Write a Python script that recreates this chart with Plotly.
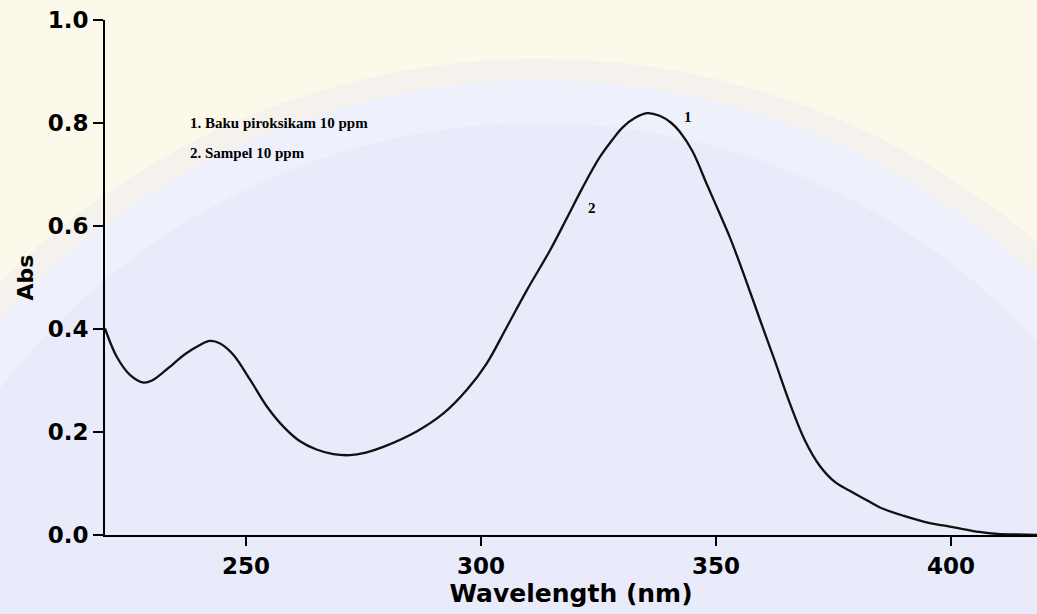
import plotly.graph_objects as go

# UV spectrum
wavelength = [220.0, 222.5, 225.3, 228.2, 230.0, 232.0, 234.5, 237.0, 240.0, 242.3,
              244.5, 247.3, 250.9, 254.4, 258.0, 261.5, 265.0, 268.6, 272.1, 275.5,
              279.2, 286.3, 292.0, 297.0, 301.2, 305.5, 309.8, 314.7, 318.2, 321.7,
              325.3, 328.0, 330.2, 332.8, 335.3, 338.0, 340.5, 342.3, 345.0, 348.1,
              350.5, 353.0, 356.2, 359.4, 362.6, 365.7, 368.9, 372.1, 375.3, 379.2,
              382.0, 385.0, 390.0, 395.5, 400.0, 406.0, 410.0, 414.0, 418.3]
absorbance = [0.401, 0.346, 0.311, 0.296, 0.300, 0.313, 0.332, 0.351, 0.368, 0.377,
              0.372, 0.350, 0.301, 0.250, 0.210, 0.182, 0.166, 0.157, 0.155, 0.160,
              0.171, 0.201, 0.236, 0.282, 0.333, 0.404, 0.476, 0.553, 0.614, 0.676,
              0.734, 0.768, 0.792, 0.810, 0.819, 0.814, 0.800, 0.783, 0.745, 0.680,
              0.630, 0.577, 0.499, 0.417, 0.336, 0.256, 0.184, 0.134, 0.103, 0.082,
              0.068, 0.053, 0.037, 0.023, 0.016, 0.006, 0.002, 0.001, 0.0]

x_ticks = [250, 300, 350, 400]
y_ticks = [0.0, 0.2, 0.4, 0.6, 0.8, 1.0]

legend_lines = ["1. Baku piroksikam 10 ppm", "2. Sampel 10 ppm"]
legend_y = [0.80, 0.742]
curve_labels = ["1", "2"]
curve_label_x = [344.0, 323.6]
curve_label_y = [0.812, 0.635]

fig = go.Figure()
fig.add_trace(go.Scatter(
    x=wavelength, y=absorbance, mode="lines",
    line=dict(color="#111111", width=2.3, shape="spline", smoothing=1.0),
    hoverinfo="skip", showlegend=False,
))

annotations = []
for txt, yy in zip(legend_lines, legend_y):
    annotations.append(dict(
        x=237.7, y=yy, xref="x", yref="y", text=txt, showarrow=False,
        xanchor="left", yanchor="middle",
        font=dict(family="Liberation Serif", size=15, color="black", weight="bold"),
    ))
for txt, xx, yy in zip(curve_labels, curve_label_x, curve_label_y):
    annotations.append(dict(
        x=xx, y=yy, xref="x", yref="y", text=txt, showarrow=False,
        xanchor="center", yanchor="middle",
        font=dict(family="Liberation Serif", size=15, color="black", weight="bold"),
    ))

tick_font = dict(family="DejaVu Sans", size=23, color="black", weight="bold")
title_font = dict(family="DejaVu Sans", size=25, color="black", weight="bold")

# soft watermark-like background (a large pale emblem)
bg_shapes = [
    dict(type="circle", xref="paper", yref="paper",
         x0=-0.345, x1=1.278, y0=-1.97, y1=0.925,
         fillcolor="#f5f2ee", line=dict(width=0), layer="below"),
    dict(type="circle", xref="paper", yref="paper",
         x0=-0.314, x1=1.247, y0=-1.94, y1=0.883,
         fillcolor="#eef0fb", line=dict(width=0), layer="below"),
    dict(type="circle", xref="paper", yref="paper",
         x0=-0.27, x1=1.20, y0=-1.90, y1=0.80,
         fillcolor="#e9ebfa", line=dict(width=0), layer="below"),
]

fig.update_layout(
    width=1037, height=614,
    margin=dict(l=105, r=0, t=20, b=79),
    paper_bgcolor="#fcf8ea",
    plot_bgcolor="rgba(0,0,0,0)",
    annotations=annotations,
    shapes=bg_shapes,
    xaxis=dict(
        range=[220, 418.3], tickvals=x_ticks, ticks="outside", ticklen=9,
        tickwidth=1.5, tickcolor="black", showline=True, linecolor="black",
        linewidth=2, showgrid=False, zeroline=False, tickfont=tick_font,
        title=dict(text="Wavelength (nm)", font=title_font, standoff=6),
    ),
    yaxis=dict(
        range=[0, 1.0], tickvals=y_ticks, tickformat=".1f", ticks="outside",
        ticklen=10, tickwidth=1.5, tickcolor="black", showline=True,
        linecolor="black", linewidth=2, showgrid=False, zeroline=False,
        tickfont=tick_font,
        title=dict(text="Abs", font=dict(family="DejaVu Sans", size=22,
                                         color="black", weight="bold"), standoff=8),
    ),
)

fig.write_html("out.html")
